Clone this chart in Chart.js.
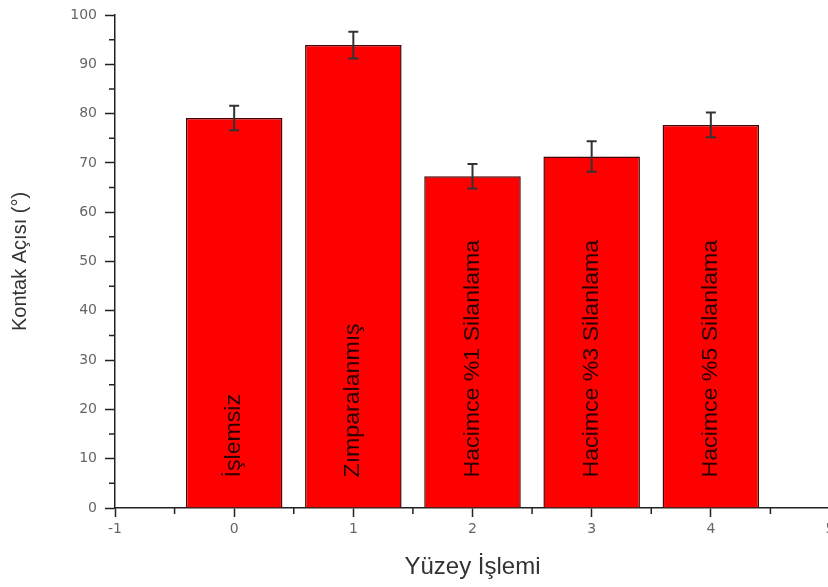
<!DOCTYPE html>
<html>
<head>
<meta charset="utf-8">
<script src="https://cdn.jsdelivr.net/npm/chart.js@4"></script>
<style>
  html, body { margin: 0; padding: 0; background: #fff; overflow: hidden; }
  #wrap { width: 842px; height: 587px; }
</style>
</head>
<body>
<div id="wrap"><canvas id="myChart"></canvas></div>
<script>
const positions = [0, 1, 2, 3, 4];
const treatments = ['İşlemsiz', 'Zımparalanmış', 'Hacimce %1 Silanlama', 'Hacimce %3 Silanlama', 'Hacimce %5 Silanlama'];
const angles = [79.1, 93.9, 67.3, 71.3, 77.7];
const errors = [2.5, 2.7, 2.5, 3.1, 2.5];
const xTicks = [-1, 0, 1, 2, 3, 4, 5];
const yTicks = [0, 10, 20, 30, 40, 50, 60, 70, 80, 90, 100];

const FONT = '"Liberation Sans", Arial, sans-serif';
const TICK_FONT = '"DejaVu Sans", sans-serif';

// error bars, minor ticks and the rotated labels inside the bars
const extras = {
  id: 'extras',
  afterDatasetsDraw(chart) {
    const ctx = chart.ctx;
    const x = chart.scales.x;
    const y = chart.scales.y;
    ctx.save();

    // error bars
    ctx.strokeStyle = '#333';
    ctx.lineWidth = 2;
    positions.forEach((p, i) => {
      const px = x.getPixelForValue(p);
      const top = y.getPixelForValue(angles[i] + errors[i]);
      const bot = y.getPixelForValue(angles[i] - errors[i]);
      ctx.beginPath();
      ctx.moveTo(px, top);
      ctx.lineTo(px, bot);
      ctx.moveTo(px - 5, top);
      ctx.lineTo(px + 5, top);
      ctx.moveTo(px - 5, bot);
      ctx.lineTo(px + 5, bot);
      ctx.stroke();
    });

    // labels inside bars
    ctx.fillStyle = '#2a0000';
    ctx.font = '22px ' + FONT;
    ctx.textAlign = 'left';
    ctx.textBaseline = 'middle';
    positions.forEach((p, i) => {
      const px = x.getPixelForValue(p);
      const py = y.getPixelForValue(6.2);
      ctx.save();
      ctx.translate(px, py);
      ctx.rotate(-Math.PI / 2);
      ctx.scale(1.05, 1);
      ctx.fillText(treatments[i], 0, 0);
      ctx.restore();
    });

    // minor ticks
    ctx.strokeStyle = '#222';
    ctx.lineWidth = 1.5;
    ctx.beginPath();
    for (let v = 5; v < 100; v += 10) {
      const py = y.getPixelForValue(v);
      ctx.moveTo(y.right - 6, py);
      ctx.lineTo(y.right, py);
    }
    for (let v = -0.5; v < 5; v += 1) {
      const px = x.getPixelForValue(v);
      ctx.moveTo(px, x.top);
      ctx.lineTo(px, x.top + 6);
    }
    ctx.stroke();
    ctx.restore();
  }
};

const data = {
  datasets: [
    {
      label: 'Kontak Açısı',
      data: positions.map((p, i) => ({ x: p, y: angles[i] })),
      backgroundColor: '#ff0000',
      borderColor: '#4a0000',
      borderWidth: 1.5,
      barPercentage: 0.81,
      categoryPercentage: 1,
    },
  ],
};

const config = {
  type: 'bar',
  data: data,
  options: {
    responsive: true,
    maintainAspectRatio: false,
    animation: false,
    layout: { padding: { top: 6, right: 12, left: 0, bottom: 0 } },
    plugins: {
      legend: { display: false },
      tooltip: { enabled: false },
    },
    scales: {
      x: {
        type: 'linear',
        offset: false,
        min: -1,
        max: 5,
        afterBuildTicks: (axis) => { axis.ticks = xTicks.map(v => ({ value: v })); },
        afterFit: (axis) => { axis.height = 79; },
        grid: { offset: false, drawOnChartArea: false, drawTicks: true, tickLength: 9, tickColor: '#222', tickWidth: 1.5 },
        border: { color: '#222', width: 1.5 },
        ticks: { color: '#666', font: { family: TICK_FONT, size: 14 }, padding: 4 },
        title: { display: true, text: 'Yüzey İşlemi', color: '#333', font: { family: FONT, size: 24 }, padding: { top: 0, bottom: 5 } },
      },
      y: {
        min: 0,
        max: 100,
        afterBuildTicks: (axis) => { axis.ticks = yTicks.map(v => ({ value: v })); },
        afterFit: (axis) => { axis.width = 115; },
        grid: { drawOnChartArea: false, drawTicks: true, tickLength: 10, tickColor: '#222', tickWidth: 1.5 },
        border: { color: '#222', width: 1.5 },
        ticks: { color: '#666', font: { family: TICK_FONT, size: 14, lineHeight: 1 }, padding: 8 },
        title: { display: true, text: 'Kontak Açısı (°)', color: '#333', font: { family: FONT, size: 20 }, padding: { top: 8, bottom: 0 } },
      },
    },
  },
  plugins: [extras],
};

const ctx = document.getElementById('myChart').getContext('2d');
const chart = new Chart(ctx, config);
</script>
</body>
</html>
